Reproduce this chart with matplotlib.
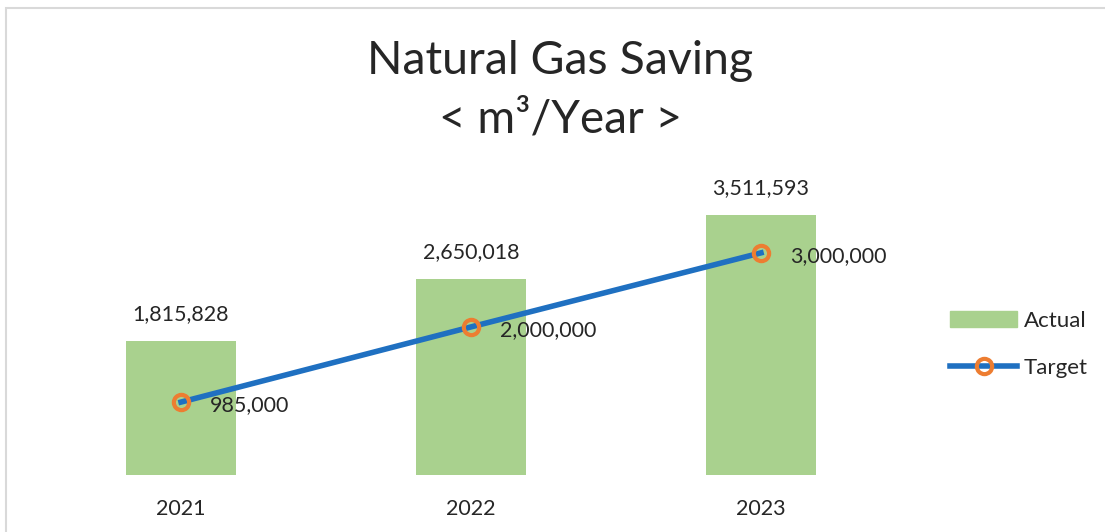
import matplotlib.pyplot as plt
from matplotlib.patches import Rectangle
from matplotlib.lines import Line2D

# data
years = ['2021', '2022', '2023']
actual = [1815828, 2650018, 3511593]
target = [985000, 2000000, 3000000]

green = '#A9D18E'
blue = '#1F70C1'
orange = '#ED7D31'
txt = '#262626'

plt.rcParams['font.family'] = ['Lato', 'DejaVu Sans']

fig = plt.figure(figsize=(11.05, 5.32), dpi=100)
ax = fig.add_axes([0.0326, 0.1071, 0.7873, 0.5568])

x = list(range(len(years)))
ax.bar(x, actual, width=0.38, color=green, zorder=1)
ax.plot(x, target, color=blue, lw=4, marker='o', ms=11, mfc='none',
        mec=orange, mew=3, zorder=3)

for i, v in enumerate(actual):
    ax.annotate(f'{v:,}', (i, v), xytext=(0, 19), textcoords='offset points',
                ha='center', va='center', fontsize=15.5, color=txt)
for i, v in enumerate(target):
    ax.annotate(f'{v:,}', (i, v), xytext=(21, -2), textcoords='offset points',
                ha='left', va='center', fontsize=15.5, color=txt)

ax.set_xlim(-0.5, 2.5)
ax.set_ylim(0, 4000000)
ax.set_xticks(x)
ax.set_xticklabels(years, fontsize=15.5, color=txt)
ax.tick_params(axis='x', length=0, pad=17)
ax.set_yticks([])
for s in ax.spines.values():
    s.set_visible(False)

fig.text(0.507, 0.885, 'Natural Gas Saving', ha='center', va='center',
         fontsize=33.5, color=txt)
fig.text(0.507, 0.776, '< m³/Year >', ha='center', va='center',
         fontsize=33, color=txt)

# chart border (only top and left visible in the crop)
fig.patches.append(Rectangle((6 / 1105, -0.1), 1.2, (532 - 8) / 532 + 0.1,
                             transform=fig.transFigure, fill=False,
                             ec='#D9D9D9', lw=1.5))

handles = [Rectangle((0, 0), 1, 1, color=green),
           Line2D([], [], color=blue, lw=4, marker='o', ms=11, mfc='none',
                  mec=orange, mew=3)]
fig.legend(handles, ['Actual', 'Target'], loc='center left',
           bbox_to_anchor=(0.842, 0.353), frameon=False, fontsize=16,
           handlelength=3.0, labelspacing=1.2, handletextpad=0.3,
           labelcolor=txt)

fig.savefig('out.png', dpi=100)
